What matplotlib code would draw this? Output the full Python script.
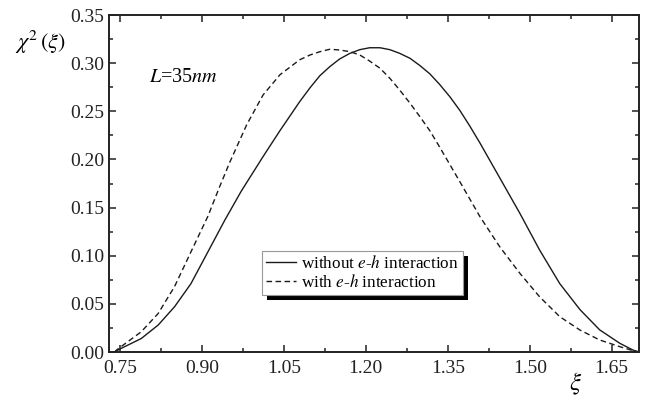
import numpy as np
import matplotlib
matplotlib.use('Agg')
import matplotlib.pyplot as plt
from matplotlib.patches import Rectangle
from matplotlib.ticker import MultipleLocator, FormatStrFormatter

plt.rcParams['font.family'] = 'Liberation Serif'
plt.rcParams['mathtext.fontset'] = 'stix'

# without e-h interaction (solid)
xi_solid = [0.740, 0.746, 0.789, 0.820, 0.850, 0.880, 0.911, 0.942, 0.972, 1.012, 1.043,
            1.079, 1.098, 1.116, 1.134, 1.152, 1.171, 1.189, 1.207, 1.226, 1.244, 1.262,
            1.281, 1.299, 1.317, 1.335, 1.354, 1.372, 1.390, 1.409, 1.445, 1.482, 1.518,
            1.555, 1.592, 1.628, 1.665, 1.689, 1.700]
chi_solid = [0.000, 0.002, 0.014, 0.028, 0.047, 0.071, 0.104, 0.137, 0.167, 0.203, 0.230,
             0.260, 0.2745, 0.2870, 0.2963, 0.3043, 0.3102, 0.3140, 0.3160, 0.3160, 0.3140, 0.3102,
             0.3050, 0.2975, 0.2890, 0.278, 0.265, 0.251, 0.235, 0.217, 0.181, 0.144, 0.106,
             0.071, 0.044, 0.023, 0.009, 0.002, 0.000]

# with e-h interaction (dashed)
xi_dash = [0.740, 0.746, 0.789, 0.820, 0.850, 0.880, 0.911, 0.932, 0.951, 0.982, 1.012,
           1.043, 1.079, 1.098, 1.116, 1.134, 1.152, 1.171, 1.189, 1.207, 1.226, 1.244,
           1.262, 1.281, 1.299, 1.317, 1.335, 1.372, 1.409, 1.445, 1.482, 1.518, 1.555,
           1.592, 1.628, 1.665, 1.689, 1.700]
chi_dash = [0.000, 0.003, 0.021, 0.040, 0.068, 0.104, 0.141, 0.171, 0.197, 0.236, 0.267,
            0.288, 0.3035, 0.3085, 0.3119, 0.3144, 0.3137, 0.3119, 0.3085, 0.3022, 0.2947, 0.2843,
            0.2721, 0.2583, 0.2444, 0.2300, 0.213, 0.177, 0.1405, 0.1094, 0.0817, 0.0574, 0.0367,
            0.0228, 0.0125, 0.0055, 0.0014, 0.000]

labels = ['without $e$-$h$ interaction', 'with $e$-$h$ interaction']
xticks = [0.75, 0.90, 1.05, 1.20, 1.35, 1.50, 1.65]

fig = plt.figure(figsize=(6.63, 3.96), dpi=100, facecolor='white')
ax = fig.add_axes([0.1644, 0.1111, 0.7994, 0.851])

ax.plot(xi_solid, chi_solid, color='#1a1a1a', lw=1.0, ls='-', label=labels[0])
ax.plot(xi_dash, chi_dash, color='#1a1a1a', lw=1.0, ls=(0, (4, 2.5)), label=labels[1])

ax.set_xlim(0.73, 1.70)
ax.set_ylim(0.0, 0.35)
ax.set_xticks(xticks)
ax.xaxis.set_minor_locator(MultipleLocator(0.075))
ax.yaxis.set_major_locator(MultipleLocator(0.05))
ax.yaxis.set_minor_locator(MultipleLocator(0.025))
ax.xaxis.set_major_formatter(FormatStrFormatter('%.2f'))
ax.yaxis.set_major_formatter(FormatStrFormatter('%.2f'))
ax.tick_params(which='both', direction='in', top=True, right=True, colors='#222222',
               labelsize=14, width=1.1)
ax.tick_params(which='major', length=5)
ax.tick_params(which='minor', length=3)
ax.tick_params(axis='x', pad=6)
for s in ax.spines.values():
    s.set_linewidth(1.4)
    s.set_color('#222222')

fig.text(0.022, 0.893, r'$\chi^2\,(\xi)$', fontsize=16, ha='left', va='center')
fig.text(0.868, 0.03, r'$\xi$', fontsize=18, ha='center', va='center')
ax.text(0.803, 0.285, r'$L$=35$nm$', fontsize=14.5, ha='left', va='center')

leg = ax.legend(loc='upper left', bbox_to_anchor=(0.289, 0.30), fontsize=12.3,
                frameon=True, fancybox=False, framealpha=1.0, handlelength=1.75,
                handletextpad=0.3, labelspacing=0.12, borderpad=0.25, borderaxespad=0.0)
leg.get_frame().set_edgecolor('#999999')
leg.get_frame().set_facecolor('white')
leg.get_frame().set_linewidth(0.8)

# drop shadow of the legend box, drawn in pixel space
fig.canvas.draw()
bb = leg.get_window_extent()
off = 5
fig.patches.append(Rectangle((bb.x0 + off, bb.y0 - off), bb.width, bb.height,
                             transform=None, facecolor='black', edgecolor='none', zorder=1))
ax.set_zorder(2)
ax.patch.set_alpha(0)

fig.savefig('out.png', dpi=100, facecolor='white')
